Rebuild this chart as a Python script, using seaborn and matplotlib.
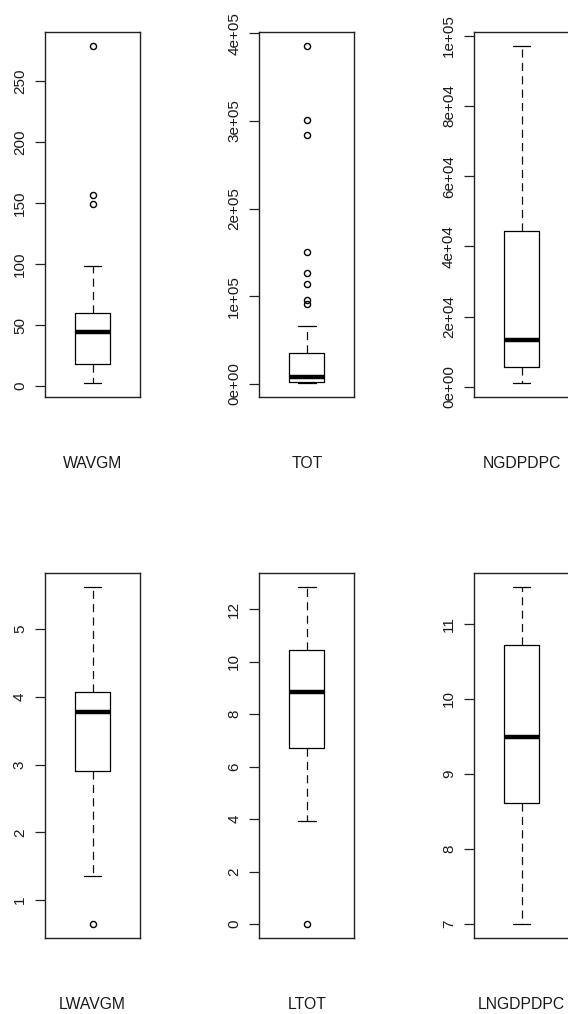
import matplotlib
matplotlib.use("Agg")
import matplotlib.pyplot as plt
import seaborn as sns

# box summaries (R style boxplots)
labels = ["WAVGM", "TOT", "NGDPDPC", "LWAVGM", "LTOT", "LNGDPDPC"]
whis_lo = [2, 500, 1000, 1.35, 3.93, 7.0]
q1 = [18.4, 2000, 5700, 2.90, 6.71, 8.61]
med = [44.3, 8300, 13250, 3.78, 8.83, 9.49]
q3 = [59.6, 35600, 44400, 4.07, 10.44, 10.71]
whis_hi = [98.2, 66400, 97200, 5.625, 12.85, 11.49]
outliers = [
    [149.6, 157, 279.5],
    [91100, 95600, 114200, 126000, 150600, 283500, 301000, 386000],
    [],
    [0.645],
    [0.0],
    [],
]
yticks = [
    [0, 50, 100, 150, 200, 250],
    [0, 100000, 200000, 300000, 400000],
    [0, 20000, 40000, 60000, 80000, 100000],
    [1, 2, 3, 4, 5],
    [0, 2, 4, 6, 8, 10, 12],
    [7, 8, 9, 10, 11],
]
sci = [False, True, True, False, False, False]

sns.set_style("white")
plt.rcParams["font.family"] = ["Liberation Sans", "DejaVu Sans"]

W, H = 568, 1014
fig = plt.figure(figsize=(W / 100, H / 100), dpi=100)

col_left = [45, 259.3, 474]
row_top = [32, 573.3]
row_bot = [397, 937.7]
ax_w = 95

for i, name in enumerate(labels):
    r, c = divmod(i, 3)
    hpx = row_bot[r] - row_top[r]
    ax = fig.add_axes([col_left[c] / W, 1 - row_bot[r] / H, ax_w / W, hpx / H])

    stats = [dict(med=med[i], q1=q1[i], q3=q3[i], whislo=whis_lo[i],
                  whishi=whis_hi[i], fliers=outliers[i])]
    ax.bxp(stats, positions=[1], widths=0.368, capwidths=0.184,
           boxprops=dict(color="black", linewidth=0.9),
           whiskerprops=dict(color="#111111", linewidth=0.9, linestyle=(0, (6.5, 4.2))),
           capprops=dict(color="black", linewidth=0.9),
           medianprops=dict(color="black", linewidth=3.2, solid_capstyle="butt"),
           flierprops=dict(marker="o", markersize=4.4, markerfacecolor="none",
                           markeredgecolor="black", markeredgewidth=1.0),
           manage_ticks=False)

    # R style limits: data range padded by 4%
    vals = [whis_lo[i], whis_hi[i]] + outliers[i]
    lo, hi = min(vals), max(vals)
    pad = 0.04 * (hi - lo)
    ax.set_ylim(lo - pad, hi + pad)
    ax.set_xlim(0.5, 1.5)
    ax.set_xticks([])

    ax.set_yticks(yticks[i])
    if sci[i]:
        ax.set_yticklabels([f"{v:.0e}" for v in yticks[i]])
    else:
        ax.set_yticklabels([str(v) for v in yticks[i]])
    ax.tick_params(axis="y", direction="out", length=7, width=0.9, color="#222222",
                   labelsize=11, labelcolor="#1a1a1a", pad=6, left=True)
    for lab in ax.get_yticklabels():
        lab.set_rotation(90)
        lab.set_va("center")

    for s in ax.spines.values():
        s.set_color("#222222")
        s.set_linewidth(1.0)

    ax.set_xlabel(name, fontsize=11.3, color="#1a1a1a", va="center")
    ax.xaxis.set_label_coords(0.5, -67 / hpx)

fig.savefig("out.png", dpi=100)
